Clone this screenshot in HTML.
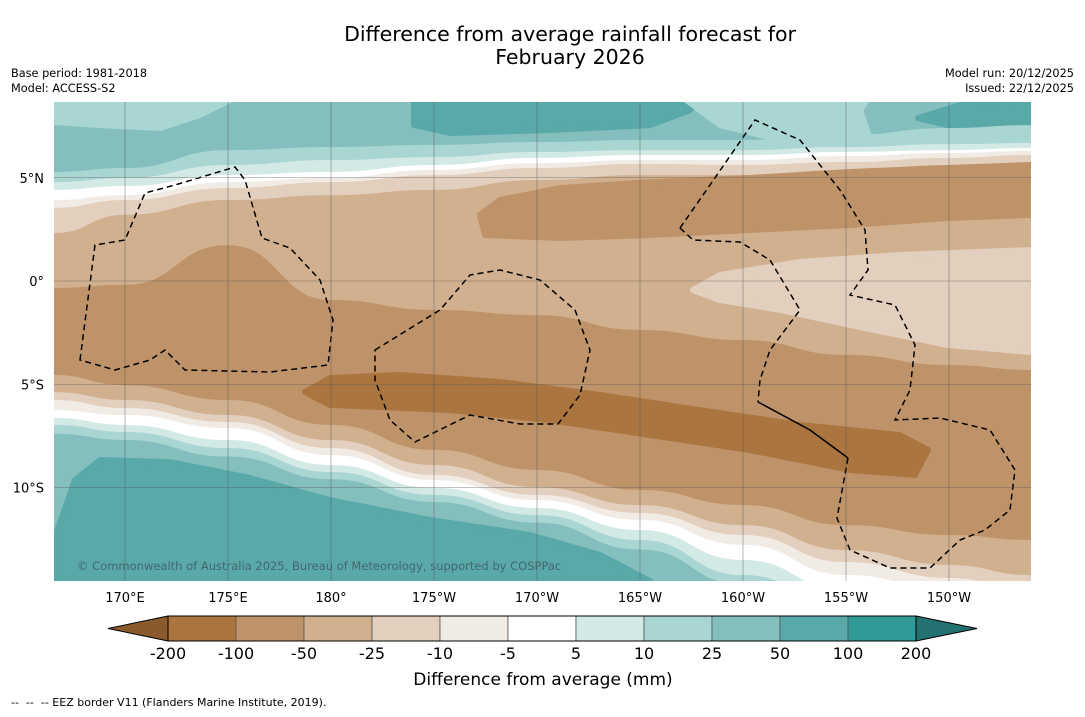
<!DOCTYPE html>
<html><head><meta charset="utf-8"><style>
body{margin:0;background:#fff;width:1085px;height:713px;overflow:hidden;font-family:"DejaVu Sans","Liberation Sans",sans-serif}
svg text{font-family:"DejaVu Sans","Liberation Sans",sans-serif}
</style></head><body>
<svg id="chart" width="1085" height="713" viewBox="0 0 1085 713">
<text x="570" y="41" font-size="20.5" text-anchor="middle">Difference from average rainfall forecast for</text>
<text x="570" y="64" font-size="20.5" text-anchor="middle">February 2026</text>
<text x="11" y="77" font-size="11.3">Base period: 1981-2018</text>
<text x="11" y="92" font-size="11.3">Model: ACCESS-S2</text>
<text x="1074" y="77" font-size="11.3" text-anchor="end">Model run: 20/12/2025</text>
<text x="1074" y="92" font-size="11.3" text-anchor="end">Issued: 22/12/2025</text>
<defs><clipPath id="mapclip"><rect x="54" y="102" width="977" height="479"/></clipPath></defs>
<g id="map" clip-path="url(#mapclip)"></g>
<g id="eez" fill="none" stroke="#000" stroke-width="1.5" stroke-dasharray="6,4" clip-path="url(#mapclip)">
<path d="M80,360 L95,245 L125,240 L145,193 L175,185 L235,167 L245,180 L262,238 L290,248 L320,280 L333,320 L328,365 L270,372 L185,370 L165,350 L150,360 L115,370 Z"/>
<path d="M375,350 L440,310 L470,275 L500,270 L540,280 L575,310 L590,350 L580,395 L558,424 L520,424 L470,415 L415,442 L390,420 L375,380 Z"/>
<path d="M680,228 L710,185 L755,120 L800,140 L840,190 L865,230 L868,270 L850,295 L895,305 L915,345 L910,390 L895,420 L940,418 L990,430 L1015,470 L1010,510 L985,530 L960,540 L930,568 L890,568 L850,550 L837,518 L848,458"/>
<path d="M680,228 L693,240 L740,242 L770,260 L800,310 L770,350 L760,380 L758,402"/>
<path d="M758,402 L810,430 L848,458" stroke-dasharray="none"/>
</g>
<g id="grid" stroke="#555" stroke-width="0.6" opacity="0.7"></g>
<text x="77" y="570" font-size="11.5" fill="#44676a">© Commonwealth of Australia 2025, Bureau of Meteorology, supported by COSPPac</text>
<g id="xlabels"></g>
<g id="ylabels"></g>
<g id="cbar"></g>
<text x="543" y="685" font-size="17" text-anchor="middle">Difference from average (mm)</text>
<text x="11" y="706" font-size="11">-- &#160;-- &#160;-- EEZ border V11 (Flanders Marine Institute, 2019).</text>
</svg>
<script>
const lons=[166.55,170,175,180,185,190,195,200,205,210,214];
const bandColors=['#84bfbe','#a9d5d3','#d3e9e6','#ffffff','#f1ebe6','#e3cfbd','#d1b08f','#bf9369','#d1b08f','#e3cfbd','#f1ebe6','#ffffff','#d3e9e6','#a9d5d3','#84bfbe'];
const b1=[5.28,5.47,6.34,6.49,6.59,6.73,6.83,6.83,7.07,7.41,7.55];
const b2=[4.79,4.99,5.62,5.86,6.0,6.25,6.34,6.34,6.49,6.63,6.68];
const b3=[4.41,4.6,5.13,5.28,5.62,5.96,6.1,6.1,6.25,6.34,6.44];
const b4=[3.92,4.16,4.79,4.99,5.38,5.71,5.86,5.86,6.05,6.2,6.3];
const b5=[3.54,3.92,4.5,4.79,5.13,5.47,5.67,5.62,5.76,5.96,6.1];
const b6=[2.32,3.2,3.92,4.16,4.41,4.89,5.13,5.13,5.38,5.62,5.71];
const b7=[-0.34,-0.19,1.74,-0.92,-1.4,-1.65,-2.37,-2.86,-3.58,-4.07,-4.31];
const b8=[-4.55,-5.04,-5.76,-6.97,-8.18,-9.15,-10.12,-10.85,-11.82,-12.3,-12.54];
const b9=[-5.38,-5.76,-6.49,-7.7,-8.91,-9.98,-10.85,-11.82,-13.03,-13.75,-14.24];
const b10=[-5.76,-6.15,-6.83,-8.09,-9.39,-10.36,-11.23,-12.3,-13.61,-14.38,-14.96];
const b11=[-6.25,-6.49,-7.12,-8.43,-9.64,-10.61,-11.57,-12.78,-14.24,-14.96,-15.45];
const b12=[-6.63,-6.97,-7.7,-8.91,-10.02,-10.99,-12.06,-13.51,-14.96,-15.45,-15.93];
const b13=[-6.97,-7.31,-8.09,-9.25,-10.36,-11.33,-12.54,-14.24,-15.69,-16.17,-16.66];
const b14=[-7.4,-7.7,-8.5,-9.6,-10.7,-11.7,-13.0,-14.7,-16.0,-16.5,-17.0];
const boundaries=[b1,b2,b3,b4,b5,b6,b7,b8,b9,b10,b11,b12,b13,b14];
const blobDarkLon=[178.74,179.95,183.35,188.2,193.06,197.9,202.77,207.6,208.98,208.35,205.2,200.3,195.5,190.6,185.8,179.95];
const blobDarkLat=[-5.38,-4.7,-4.55,-4.89,-5.52,-6.25,-6.97,-7.46,-8.18,-9.39,-9.15,-8.18,-7.46,-6.73,-6.25,-6.0];
const blobUpLon=[187.23,188.2,191.12,195.5,200.34,205.2,209.95,213.98,213.98,209.95,205.2,200.34,195.5,191.12,187.48];
const blobUpLat=[3.2,3.92,4.5,4.79,4.99,5.28,5.47,5.62,3.2,3.05,2.71,2.47,2.23,2.08,2.23];
const blobLightLon=[197.57,198.88,202.77,207.6,213.98,213.98,209.95,205.2,201.8,198.88];
const blobLightLat=[-0.44,0.29,0.92,1.26,1.5,-3.44,-3.1,-2.13,-1.4,-0.92];
const blobTealLon=[166.55,167.57,168.79,172.18,176.07,179.95,184.8,189.66,193.06,195.49,166.55];
const blobTealLat=[-12.54,-9.64,-8.67,-8.77,-9.54,-10.61,-11.57,-12.3,-13.27,-14.53,-14.53];
const topDarkLon=[184.03,184.03,185.78,190.63,195.49,197.43,197.91];
const topDarkLat=[9,7.55,7.17,7.31,7.55,8.28,9];
const topRightLon=[208.5,210.53,213.98,213.98,210.53];
const topRightLat=[7.89,8.52,8.67,7.31,7.41];
const topLeftLon=[166.55,166.55,168.79,171.7,173.64,175.58];
const topLeftLat=[9,7.7,7.55,7.41,8.04,9];
const topMidLon=[196.94,198.88,201.8,206.17,205.68,206.17];
const topMidLat=[9,7.55,6.83,6.83,8.28,9];
const cbLabels=['-200','-100','-50','-25','-10','-5','5','10','25','50','100','200'];
const cbColors=['#ab7540','#bf9369','#d1b08f','#e3cfbd','#f1ebe6','#ffffff','#d3e9e6','#a9d5d3','#84bfbe','#59a9a9','#2f9a96'];
const lonTicks=[170,175,180,185,190,195,200,205,210];
const lonTickLabels=['170°E','175°E','180°','175°W','170°W','165°W','160°W','155°W','150°W'];
const latTicks=[5,0,-5,-10];
const latTickLabels=['5°N','0°','5°S','10°S'];

(function(){
const NS='http://www.w3.org/2000/svg';
const X=lon=>125+(lon-170)*20.6;
const Y=lat=>281-lat*20.65;
function mk(tag,parent){const e=document.createElementNS(NS,tag);parent.appendChild(e);return e;}
function smooth(pts){let d='M'+pts[0][0]+','+pts[0][1];for(let i=1;i<pts.length;i++){const p0=pts[i-1],p1=pts[i];const mx=(p0[0]+p1[0])/2;d+=' C'+mx+','+p0[1]+' '+mx+','+p1[1]+' '+p1[0]+','+p1[1];}return d;}
const map=document.getElementById('map');
const bg=mk('rect',map);bg.setAttribute('x',54);bg.setAttribute('y',102);bg.setAttribute('width',977);bg.setAttribute('height',479);bg.setAttribute('fill',bandColors[0]);


function poly(lo,la,col,name){const p=mk('path',map);const pts=lo.map((l,i)=>[X(l),Y(la[i])]);p.setAttribute('d','M'+pts.map(q=>q.join(',')).join(' L')+'Z');p.setAttribute('fill',col);p.setAttribute('stroke',col);p.setAttribute('stroke-linejoin','round');p.setAttribute('stroke-width','6');

}
poly(topLeftLon,topLeftLat,'#a9d5d3','top-left-light-area');
poly(topDarkLon,topDarkLat,'#59a9a9','top-wet-area');
poly(topRightLon,topRightLat,'#59a9a9','top-right-wet-area');
poly(topMidLon,topMidLat,'#a9d5d3','top-mid-light-area');
boundaries.forEach((b,i)=>{const pts=lons.map((l,j)=>[X(l),Y(b[j])]);const p=mk('path',map);
p.setAttribute('d',smooth(pts)+' L1040,700 L40,700 Z');p.setAttribute('fill',bandColors[i+1]);

});
poly(blobUpLon,blobUpLat,'#bf9369','northern-dry-area');
poly(blobLightLon,blobLightLat,'#e3cfbd','eastern-light-dry-area');
poly(blobDarkLon,blobDarkLat,'#ab7540','southern-very-dry-area');
poly(blobTealLon,blobTealLat,'#59a9a9','southwest-wet-area');
const grid=document.getElementById('grid');
lonTicks.forEach((l,i)=>{const ln=mk('line',grid);ln.setAttribute('x1',X(l));ln.setAttribute('x2',X(l));ln.setAttribute('y1',102);ln.setAttribute('y2',581);


const t=mk('text',document.getElementById('xlabels'));t.setAttribute('x',X(l));t.setAttribute('y',602);t.setAttribute('font-size',13);t.setAttribute('text-anchor','middle');t.textContent=lonTickLabels[i];

});
latTicks.forEach((l,i)=>{const ln=mk('line',grid);ln.setAttribute('y1',Y(l));ln.setAttribute('y2',Y(l));ln.setAttribute('x1',54);ln.setAttribute('x2',1031);


const t=mk('text',document.getElementById('ylabels'));t.setAttribute('x',44);t.setAttribute('y',Y(l)+5);t.setAttribute('font-size',13);t.setAttribute('text-anchor','end');t.textContent=latTickLabels[i];

});
const cb=document.getElementById('cbar');
const w=68,x0=168,cy=616,h=25;
const l=mk('polygon',cb);l.setAttribute('points',`${x0},${cy} ${x0},${cy+h} 108,${cy+h/2}`);l.setAttribute('fill','#8a5a2b');l.setAttribute('stroke','#000');


cbColors.forEach((c,i)=>{const r=mk('rect',cb);r.setAttribute('x',x0+i*w);r.setAttribute('y',cy);r.setAttribute('width',w);r.setAttribute('height',h);r.setAttribute('fill',c);r.setAttribute('stroke','#555');r.setAttribute('stroke-width','0.8');

});
const xe=x0+cbColors.length*w;
const rr=mk('polygon',cb);rr.setAttribute('points',`${xe},${cy} ${xe},${cy+h} 977,${cy+h/2}`);rr.setAttribute('fill','#237271');rr.setAttribute('stroke','#000');


const ob=mk('rect',cb);ob.setAttribute('x',x0);ob.setAttribute('y',cy);ob.setAttribute('width',xe-x0);ob.setAttribute('height',h);ob.setAttribute('fill','none');ob.setAttribute('stroke','#000');


cbLabels.forEach((s,i)=>{const t=mk('text',cb);t.setAttribute('x',x0+i*w);t.setAttribute('y',659);t.setAttribute('font-size',16);t.setAttribute('text-anchor','middle');t.textContent=s;

});
})();
</script>
</body></html>
